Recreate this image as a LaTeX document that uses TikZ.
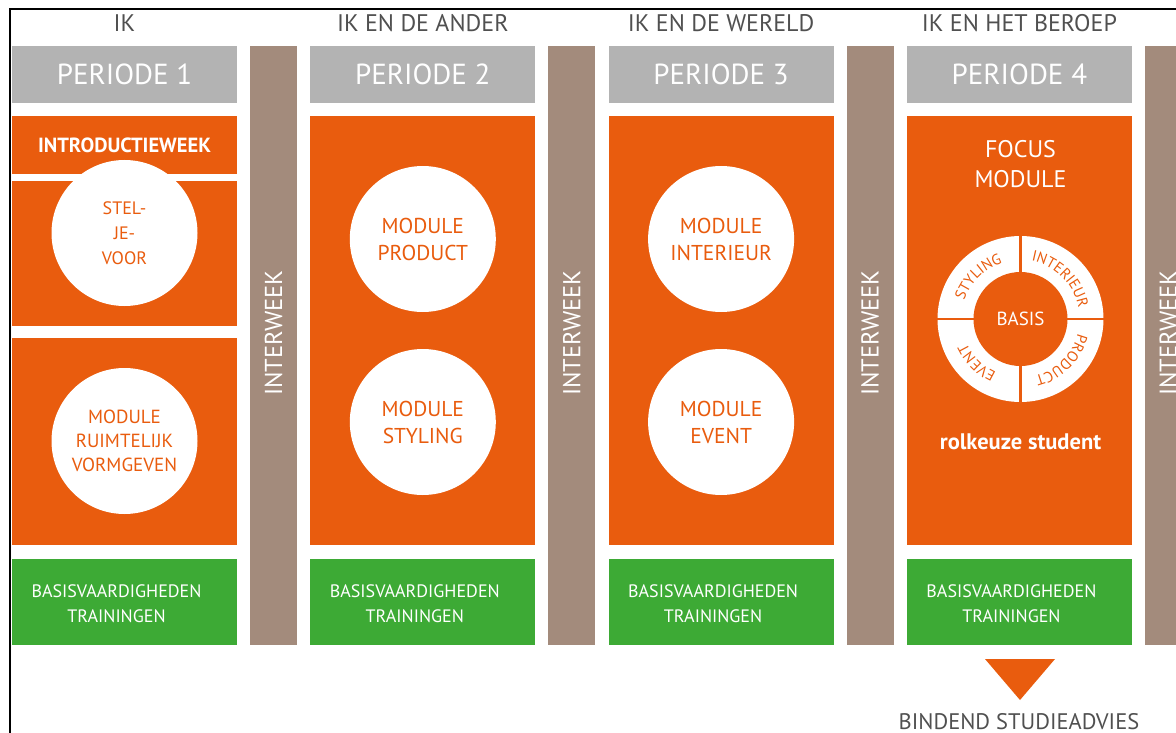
\documentclass[tikz,border=0pt]{standalone}
\usepackage{fontspec}
\setmainfont{PT Sans}
\usepackage{tikz}
\usetikzlibrary{decorations.text}
\definecolor{oranje}{RGB}{233,92,14}
\definecolor{groen}{RGB}{61,170,53}
\definecolor{bruin}{RGB}{163,139,124}
\definecolor{grijs}{RGB}{179,179,179}
\definecolor{tekstgrijs}{RGB}{80,80,80}

\begin{document}
\begin{tikzpicture}[x=1pt,y=-1pt,
    blok/.style={inner sep=0,outer sep=0,minimum width=225},
    kop/.style={blok,fill=grijs,minimum height=57,text=white,font=\fontsize{29}{29}\selectfont},
    oranjeblok/.style={blok,fill=oranje},
    groenblok/.style={blok,fill=groen,minimum height=86},
    groentekst/.style={text=white,align=center,font=\fontsize{18}{25}\selectfont},
    tussen/.style={inner sep=0,fill=bruin,minimum width=47,minimum height=599},
    tussentekst/.style={text=white,rotate=90,font=\fontsize{24.5}{24.5}\selectfont},
    thema/.style={text=tekstgrijs,font=\fontsize{24}{24}\selectfont},
    module/.style={circle,fill=white,minimum size=146,inner sep=0,text=oranje,align=center,font=\fontsize{21.5}{27}\selectfont},
    ringtekst/.style={decorate,decoration={text along path,text align=center,text color=oranje,text={|\fontsize{15}{15}\selectfont|#1}}}
  ]
  \clip (0,0) rectangle (1176,733);
  \fill[white] (0,0) rectangle (1176,733);
  \draw[line width=2] (10,733) -- (10,9) -- (1176,9);

  \foreach \i/\titel in {1/IK, 2/IK EN DE ANDER, 3/IK EN DE WERELD, 4/IK EN HET BEROEP} {
    \pgfmathsetmacro\xm{124.5+(\i-1)*298.3}
    \node[thema] (thema\i) at (\xm,23) {\titel};
    \node[kop] (kop\i) at (\xm,74.5) {PERIODE \i};
    \node[tussen] (tussen\i) at (\xm+149,345.5) {};
    \node[tussentekst] (interweek\i) at (\xm+149,333) {INTERWEEK};
    \node[groenblok] (groen\i) at (\xm,602) {};
    \node[groentekst] (basis\i) at (\xm-8,604) {BASISVAARDIGHEDEN\\TRAININGEN};
  }
  \foreach \i in {2,3,4}
    \node[oranjeblok,minimum height=429] (blok\i) at ({124.5+(\i-1)*298.3},330.5) {};

  \node[oranjeblok,minimum height=58,text=white,font=\bfseries\fontsize{20.5}{20.5}\selectfont] (intro) at (124.5,145) {INTRODUCTIEWEEK};
  \node[oranjeblok,minimum height=145] (blok1a) at (124.5,253.5) {};
  \node[oranjeblok,minimum height=207] (blok1b) at (124.5,441.5) {};

  \node[module,font=\fontsize{18}{25}\selectfont] (steljevoor) at (124.5,233) {STEL-\\JE-\\VOOR};
  \node[module,font=\fontsize{19}{24}\selectfont] (ruimtelijk) at (124.5,441) {MODULE\\RUIMTELIJK\\VORMGEVEN};
  \node[module] (product) at (422.8,239) {MODULE\\PRODUCT};
  \node[module] (styling) at (422.8,422) {MODULE\\STYLING};
  \node[module] (interieur) at (721.1,239) {MODULE\\INTERIEUR};
  \node[module] (event) at (721.1,422) {MODULE\\EVENT};

  \node[text=white,align=center,font=\fontsize{24}{30}\selectfont] (focus) at (1020.5,164) {FOCUS\\MODULE};
  \node[circle,fill=white,minimum size=166,inner sep=0] (ring) at (1020.5,319) {};
  \draw[oranje,line width=2.5] (ring.north) -- (ring.south) (ring.west) -- (ring.east);
  \node[circle,fill=oranje,minimum size=94,inner sep=0,text=white,font=\fontsize{19}{19}\selectfont] (kern) at (ring) {BASIS};
  \path[ringtekst=STYLING] (ring.center) ++(-172:59) arc[start angle=-172,end angle=-98,radius=59];
  \path[ringtekst=INTERIEUR] (ring.center) ++(-84:59) arc[start angle=-84,end angle=-6,radius=59];
  \path[ringtekst=PRODUCT] (ring.center) ++(6:59) arc[start angle=6,end angle=84,radius=59];
  \path[ringtekst=EVENT] (ring.center) ++(98:59) arc[start angle=98,end angle=172,radius=59];
  \node[text=white,font=\bfseries\fontsize{22.5}{22.5}\selectfont] (rolkeuze) at (1020.5,442) {rolkeuze student};

  \fill[oranje] (985,659) coordinate (pl) -- (1055,659) coordinate (pr) -- (1020,700) coordinate (pt) -- cycle;
  \node[text=tekstgrijs,font=\fontsize{22.5}{22.5}\selectfont] (advies) at (1019,722) {BINDEND STUDIEADVIES};
\end{tikzpicture}
\end{document}
